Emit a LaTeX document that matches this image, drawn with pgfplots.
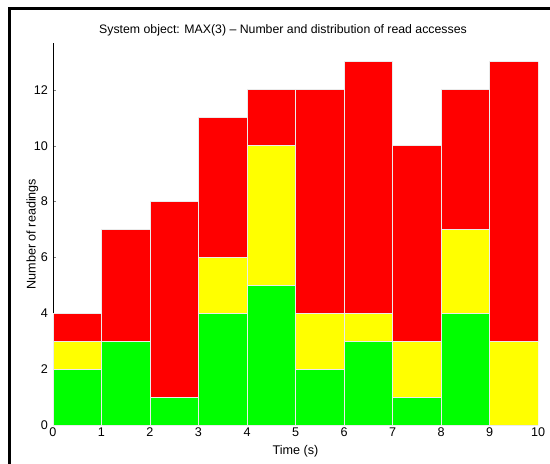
\documentclass[border=0pt]{standalone}
\usepackage{pgfplots}
\pgfplotsset{compat=1.18}
\usepackage{fontspec}
\setmainfont{Liberation Sans}
\definecolor{mred}{rgb}{1,0,0}
\definecolor{myel}{rgb}{1,1,0}
\definecolor{mgrn}{rgb}{0,1,0}
\definecolor{edgecol}{rgb}{0.92,0.92,0.92}
\begin{document}
\begin{tikzpicture}[x=0.5pt,y=0.5pt]
\useasboundingbox (-53,-38) rectangle (497,425);
\draw[line width=1.5pt] (-43,-60) -- (-43,417) -- (520,417);
\node[font=\fontsize{6.15}{7}\selectfont, anchor=base] at (230,392) {System object: MAX(3) -- Number and distribution of read accesses};
\begin{axis}[
  at={(0,0)}, anchor=origin,
  scale only axis, width=242.5pt, height=191pt,
  xmin=0, xmax=10, ymin=0, ymax=13.68,
  axis x line*=bottom, axis y line*=left,
  axis line style={line width=0.4pt},
  x axis line style={draw=black!25},
  ybar stacked, bar width=1,
  xtick={0,...,10}, ytick={0,2,...,12},
  tick align=inside, major tick length=1.5pt,
  xtick style={draw=none},
  tick label style={font=\fontsize{6.3}{7}\selectfont},
  /pgf/number format/assume math mode=true,
  xlabel={Time (s)}, ylabel={Number of readings},
  label style={font=\fontsize{6.3}{7}\selectfont},
  xlabel style={yshift=2.5pt},
  ylabel style={yshift=-9pt},
  yticklabel style={xshift=1pt},
  xticklabel style={yshift=2pt},
  bar shift=0pt,
]
\addplot[fill=mgrn, draw=edgecol, line width=0.5pt] coordinates {(0.5,2) (1.5,3) (2.5,1) (3.5,4) (4.5,5) (5.5,2) (6.5,3) (7.5,1) (8.5,4) (9.5,0)};
\addplot[fill=myel, draw=edgecol, line width=0.5pt] coordinates {(0.5,1) (1.5,0) (2.5,0) (3.5,2) (4.5,5) (5.5,2) (6.5,1) (7.5,2) (8.5,3) (9.5,3)};
\addplot[fill=mred, draw=edgecol, line width=0.5pt] coordinates {(0.5,1) (1.5,4) (2.5,7) (3.5,5) (4.5,2) (5.5,8) (6.5,9) (7.5,7) (8.5,5) (9.5,10)};
\end{axis}
\end{tikzpicture}
\end{document}
